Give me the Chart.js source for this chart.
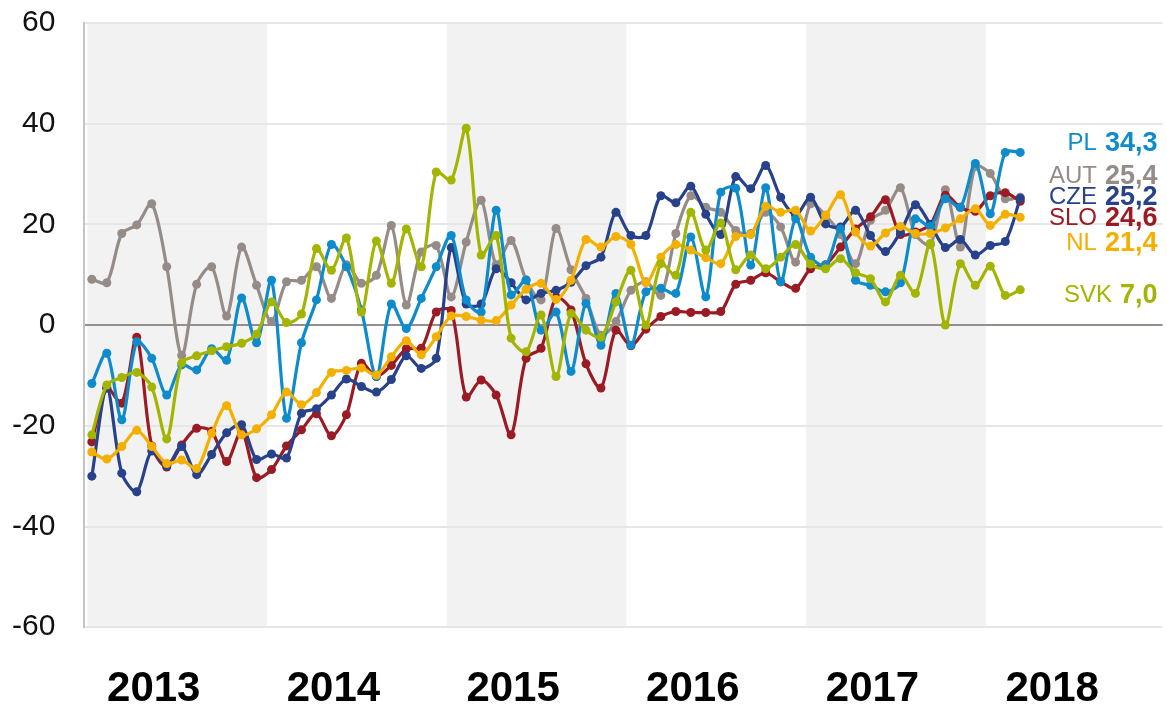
<!DOCTYPE html>
<html>
<head>
<meta charset="utf-8">
<script src="https://cdn.jsdelivr.net/npm/chart.js@4.4.1/dist/chart.umd.min.js"></script>
<style>
  html, body { margin: 0; padding: 0; background: #fff; }
  #wrap { width: 1167px; height: 708px; }
</style>
</head>
<body>
<div id="wrap"><canvas id="chart" width="1167" height="708"></canvas></div>
<script>
// monthly axis, Jan 2013 .. Dec 2018 (data runs to Mar 2018)
const months = [];
for (let y = 2013; y <= 2018; y++) {
    for (let m = 1; m <= 12; m++) months.push(y + '-' + String(m).padStart(2, '0'));
}
const yTicks = [-60, -40, -20, 0, 20, 40, 60];
const shadedYears = [2013, 2015, 2017];

const PL = [-11.6, -5.6, -18.8, -3.3, -6.6, -13.9, -7.9, -8.9, -4.7, -7.0,
    5.4, -3.5, 8.9, -18.5, -3.5, 5.0, 16.0, 11.6, 3.0, -10.2,
    4.2, -0.7, 5.3, 11.6, 17.8, 5.0, 2.6, 22.8, 6.0, 8.9,
    -1.0, 2.6, -9.2, 4.3, -4.0, 6.3, -4.0, 6.6, 7.3, 6.3,
    17.5, 5.6, 26.4, 27.2, 11.9, 27.3, 8.6, 21.1, 13.5, 11.9,
    19.1, 8.9, 7.9, 6.6, 8.4, 21.1, 19.6, 25.1, 23.4, 32.1,
    22.1, 34.3, 34.3];
const AUT = [9.1, 8.4, 18.2, 19.9, 24.1, 11.6, -6.0, 8.1, 11.6, 1.8,
    15.5, 7.9, 0.7, 8.6, 8.9, 11.6, 5.3, 12.0, 8.3, 9.9,
    19.8, 4.0, 14.5, 15.8, 5.6, 16.5, 24.8, 12.0, 16.8, 9.0,
    5.0, 19.2, 11.0, 5.3, -2.0, 0.7, 6.9, 8.6, 5.9, 18.2,
    25.7, 23.4, 22.4, 18.8, 18.2, 22.4, 19.5, 12.5, 24.1, 21.8,
    18.0, 12.2, 20.8, 22.8, 27.3, 18.0, 16.0, 26.9, 15.5, 31.5,
    30.1, 25.1, 25.4];
const CZE = [-30.0, -12.5, -29.4, -33.1, -25.0, -28.0, -24.1, -29.7, -25.7, -21.4,
    -19.8, -26.7, -25.6, -26.4, -17.5, -16.6, -13.9, -10.7, -12.2, -13.3,
    -10.8, -6.1, -8.6, -6.6, 15.4, 4.2, 4.2, 11.2, 8.4, 5.0,
    6.3, 6.9, 8.5, 11.8, 13.5, 22.4, 17.8, 17.8, 25.7, 24.3,
    27.6, 22.0, 18.0, 29.5, 27.1, 31.7, 25.4, 21.8, 25.4, 20.1,
    19.5, 22.8, 17.8, 14.6, 18.5, 23.9, 20.0, 15.4, 17.0, 13.9,
    15.8, 16.6, 25.2];
const SLO = [-23.2, -12.5, -15.5, -2.4, -24.0, -28.2, -23.8, -20.5, -21.1, -27.1,
    -21.1, -30.3, -28.7, -24.0, -20.8, -17.6, -22.0, -17.8, -7.6, -10.2,
    -8.0, -4.7, -4.6, 2.6, 2.9, -14.3, -10.9, -13.9, -21.8, -6.6,
    -4.6, 5.5, 3.0, -7.7, -12.5, -1.0, -4.1, -0.8, 1.7, 2.7,
    2.5, 2.5, 2.7, 8.1, 8.9, 10.4, 8.6, 7.3, 11.2, 12.0,
    15.5, 19.1, 21.5, 24.9, 18.0, 18.5, 20.0, 25.8, 23.4, 22.6,
    25.7, 26.3, 24.6];
const NL = [-25.2, -26.6, -24.1, -20.9, -24.1, -27.5, -26.8, -28.5, -21.5, -16.0,
    -21.8, -20.6, -17.8, -13.3, -15.8, -13.4, -9.4, -9.0, -8.5, -9.9,
    -6.3, -3.1, -5.9, -2.3, 1.8, 1.7, 1.0, 0.9, 4.0, 7.1,
    8.3, 5.1, 8.9, 17.0, 15.5, 17.6, 16.0, 8.4, 13.5, 16.0,
    14.9, 13.4, 12.2, 17.6, 18.0, 23.6, 22.4, 22.8, 18.7, 21.8,
    25.9, 18.5, 15.7, 18.3, 19.6, 18.2, 18.2, 19.3, 21.1, 23.1,
    19.8, 22.0, 21.4];
const SVK = [-21.8, -11.9, -10.4, -9.4, -12.3, -22.6, -7.5, -6.1, -5.1, -4.3,
    -3.6, -1.8, 4.6, 0.5, 2.2, 15.2, 10.9, 17.3, 2.6, 16.7,
    8.3, 19.1, 11.6, 30.4, 28.8, 39.1, 13.9, 17.8, -2.6, -5.3,
    2.0, -10.2, 2.3, -1.0, -2.4, 4.6, 10.9, 0.0, 12.2, 9.9,
    22.4, 14.9, 20.3, 11.0, 13.9, 11.2, 13.5, 16.0, 12.1, 11.2,
    13.2, 10.4, 9.2, 4.6, 9.9, 6.3, 16.2, 0.0, 12.2, 7.9,
    11.7, 5.9, 7.0];

// drawing order: first one ends up on top
const series = [
    { name: 'SVK', data: SVK, color: '#a3b500', nudge: 6 },
    { name: 'NL',  data: NL,  color: '#f4b000', nudge: 26 },
    { name: 'PL',  data: PL,  color: '#0e8bcb', nudge: -9 },
    { name: 'CZE', data: CZE, color: '#27418a', nudge: -1 },
    { name: 'SLO', data: SLO, color: '#9b1b24', nudge: 17 },
    { name: 'AUT', data: AUT, color: '#958c88', nudge: -21 }
];

const bandsPlugin = {
    id: 'bands',
    beforeDraw(chart) {
        const { ctx, chartArea, scales: { x } } = chart;
        ctx.save();
        ctx.fillStyle = '#f2f2f2';
        shadedYears.forEach(yr => {
            const i = months.indexOf(yr + '-01');
            let x0 = x.getPixelForValue(i - 0.3);
            let x1 = x.getPixelForValue(i + 12 - 0.3);
            x0 = Math.max(x0, chartArea.left);
            x1 = Math.min(x1, chartArea.right);
            ctx.fillRect(x0, chartArea.top, x1 - x0, chartArea.bottom - chartArea.top);
        });
        ctx.restore();
    }
};

const endLabels = {
    id: 'endLabels',
    afterDatasetsDraw(chart) {
        const { ctx, chartArea, scales: { y } } = chart;
        ctx.save();
        ctx.textBaseline = 'middle';
        ctx.textAlign = 'right';
        series.forEach(s => {
            const last = s.data[s.data.length - 1];
            const py = y.getPixelForValue(last) + s.nudge;
            const txt = last.toFixed(1).replace('.', ',');
            const right = chartArea.right - 5;
            ctx.fillStyle = s.color;
            ctx.font = 'bold 27px "Liberation Sans", Arial, sans-serif';
            ctx.fillText(txt, right, py);
            const w = ctx.measureText(txt).width;
            ctx.font = '24px "Liberation Sans", Arial, sans-serif';
            ctx.fillText(s.name, right - w - 8, py);
        });
        ctx.restore();
    }
};

new Chart(document.getElementById('chart'), {
    type: 'line',
    data: {
        labels: months,
        datasets: series.map(s => ({
            label: s.name,
            data: s.data,
            borderColor: s.color,
            backgroundColor: s.color,
            pointBackgroundColor: s.color,
            pointBorderWidth: 0,
            pointRadius: 4.5,
            borderWidth: 3.2,
            tension: 0.3,
            fill: false
        }))
    },
    options: {
        responsive: false,
        animation: false,
        devicePixelRatio: 1,
        layout: { padding: { left: 12, top: 23, right: 0, bottom: 0 } },
        plugins: {
            legend: { display: false },
            tooltip: { enabled: false }
        },
        scales: {
            x: {
                type: 'category',
                offset: true,
                // tick marks only reserve the gap above the year labels
                grid: { display: false, drawTicks: true, tickLength: 43 },
                border: { display: false },
                ticks: {
                    autoSkip: false,
                    maxRotation: 0,
                    padding: 0,
                    labelOffset: 2,
                    color: '#000',
                    font: { family: '"Liberation Sans", Arial, sans-serif', size: 42, weight: 'bold', lineHeight: 0.9 },
                    callback: function (value) {
                        const lab = this.getLabelForValue(value);
                        return lab.endsWith('-05') ? lab.slice(0, 4) : '';
                    }
                }
            },
            y: {
                min: yTicks[0],
                max: yTicks[yTicks.length - 1],
                afterBuildTicks: axis => { axis.ticks = yTicks.map(v => ({ value: v })); },
                grid: {
                    drawTicks: true,
                    tickLength: 29,
                    tickColor: 'rgba(0,0,0,0)',
                    color: ctx => ctx.tick.value === 0 ? '#958e8a' : '#e6e6e6',
                    lineWidth: 2
                },
                border: { display: true, color: '#c4c4c4', width: 2 },
                ticks: {
                    padding: 0,
                    color: '#111',
                    font: { family: '"Liberation Sans", Arial, sans-serif', size: 30 }
                }
            }
        }
    },
    plugins: [bandsPlugin, endLabels]
});
</script>
</body>
</html>
